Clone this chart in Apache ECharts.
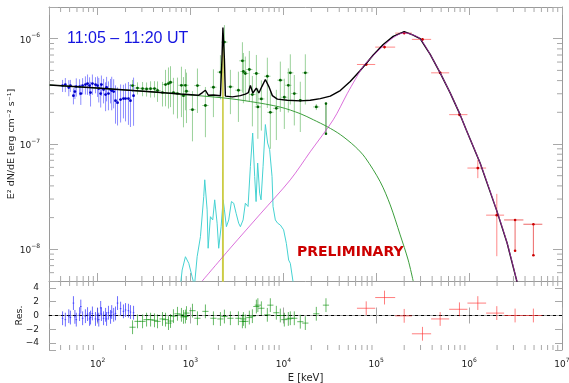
<!DOCTYPE html>
<html>
<head>
<meta charset="utf-8">
<script src="https://cdn.jsdelivr.net/npm/echarts@6/dist/echarts.min.js"></script>
<style>
html, body { margin: 0; padding: 0; background: #fff; }
#chart { width: 569px; height: 383px; }
</style>
</head>
<body>
<div id="chart"></div>
<script>
// flux values are in units of 1e-7 erg cm^-2 s^-1, energies in keV
var FU = 1e-7;

// low energy instrument (blue)
var blueE = [42, 45, 49, 51, 55, 57, 59, 64, 66, 69, 74, 78, 82, 84, 88, 95, 100, 103, 108, 110, 116, 122, 125, 131, 138, 142, 149, 156, 164, 177, 190, 200, 215, 226, 244];
var blueF = [3.59, 3.67, 3.44, 3.59, 2.88, 3.15, 3.51, 3.51, 3.01, 3.59, 3.67, 3.75, 3.59, 3.08, 3.75, 3.67, 3.59, 3.36, 3.01, 3.67, 3.29, 2.95, 3.44, 3.01, 3.29, 3.22, 3.15, 2.58, 2.47, 2.64, 2.70, 2.70, 2.70, 2.58, 2.88];
var blueErr = [0.47, 0.56, 0.60, 0.47, 0.50, 0.48, 0.69, 0.61, 0.66, 0.63, 0.72, 0.82, 0.71, 0.81, 0.82, 0.64, 0.79, 0.88, 0.79, 0.80, 0.86, 0.90, 0.90, 0.92, 0.86, 1.13, 0.97, 1.02, 0.97, 1.04, 0.95, 1.06, 1.18, 1.13, 1.39];
var blueRes = [-0.4, -0.6, -0.1, -0.3, 1.8, -0.2, -0.6, 0.2, 1.3, -0.4, -0.1, 0.2, -0.5, -0.3, 0.3, -0.5, 0.1, -0.6, 1.1, 0.2, -0.4, 0.1, -0.5, 0.4, -0.2, 0.5, 0.1, 0.3, 1.8, 1.0, 0.6, 0.8, 0.7, 0.5, 0.4];

// mid energy instrument (green)
var greenE = [238, 269, 305, 337, 372, 410, 442, 500, 539, 580, 610, 656, 725, 800, 841, 883, 906, 1051, 1189, 1449, 1767, 2102, 2321, 2692, 3283, 3625, 3715, 3900, 4305, 4642, 5125, 5318, 5800, 6728, 7245, 8408, 9283, 10250, 11320, 11890, 13130, 15230, 17250, 22650];
var greenF = [3.59, 3.40, 3.36, 3.33, 3.35, 3.36, 3.22, 3.08, 3.67, 3.75, 3.86, 3.08, 3.01, 3.61, 2.88, 3.61, 3.17, 2.12, 3.59, 2.32, 3.46, 4.81, 9.28, 3.49, 3.24, 6.17, 4.88, 4.67, 5.10, 2.95, 4.67, 2.25, 2.68, 4.40, 2.00, 2.18, 4.04, 2.78, 3.61, 4.74, 3.01, 2.60, 4.74, 2.25];
var greenErr = [0.47, 0.45, 0.52, 0.51, 0.59, 0.59, 0.71, 0.81, 1.39, 1.58, 1.62, 1.17, 1.26, 1.81, 1.44, 1.52, 1.59, 1.06, 1.62, 1.16, 1.66, 2.16, 4.18, 1.57, 1.62, 3.09, 2.44, 2.10, 2.55, 1.48, 2.34, 1.13, 1.34, 2.20, 1.10, 1.09, 2.02, 1.39, 1.62, 2.37, 1.51, 1.30, 2.37, 0.15];
var greenRes = [-1.7, -0.85, -0.85, -0.6, -0.6, -0.7, -0.85, -0.5, -0.6, -1.1, -0.8, -0.1, 0.25, 0.1, -0.2, -0.15, 0.35, 0.7, -0.4, 0.6, -0.4, -0.5, -0.15, -0.4, -0.4, -0.85, -0.5, -0.85, -0.3, -0.1, 1.3, 1.5, 1.05, 0.1, 1.5, 0.4, 0, -0.6, -0.5, -0.4, -0.4, -0.9, -1.1, 0.25];
var greenUlE = [28770];
var greenUlTop = [2.42];
var greenUlBottom = [1.25];
var greenUlRes = [1.5];

// high energy instrument (red)
var redE = [78000, 122800, 200000, 314700, 487700, 787000, 1241000, 1987000];
var redBinLo = [62000, 97500, 160000, 242000, 390000, 610000, 959000, 1524000];
var redBinHi = [97500, 160000, 242000, 390000, 610000, 959000, 1524000, 2380000];
var redF = [5.69, 8.32, 11.3, 9.85, 4.74, 1.90, 0.591, 0.211];
var redErr = [0.15, 0.25, 0.35, 0.30, 0.15, 0.08, 0.117, 0.125];
var redRes = [1.05, 2.6, -0.05, -2.65, -0.5, 0.9, 1.8, 0.35];
var redUlE = [3126000, 4920000];
var redUlBinLo = [2380000, 3840000];
var redUlBinHi = [3840000, 6140000];
var redUlTop = [0.190, 0.173];
var redUlBottom = [0.097, 0.0877];
var redUlRes = [0, 0];

// model curves
var totalE = [30.5, 107.7, 371.5, 780, 1219, 1346, 1449, 1561, 1767, 2102, 2182, 2236, 2280, 2321, 2377, 2829, 3448, 3900, 4205, 4418, 4698, 5125, 5452, 5870, 6405, 6982, 7616, 8620, 11040, 15240, 19500, 25000, 32020, 41000, 52480, 67300, 78000, 92900, 118900, 152400, 200000, 250000, 297200, 381000, 487700, 625000, 800000, 928000, 1313000, 2000000, 2564000, 3300000];
var totalF = [3.63, 3.38, 3.13, 2.98, 2.90, 3.08, 3.24, 2.90, 2.92, 2.87, 6.35, 12.8, 13.1, 6.35, 2.85, 2.80, 2.88, 2.98, 3.08, 3.59, 3.05, 3.40, 3.05, 3.51, 4.10, 3.51, 2.88, 2.67, 2.60, 2.57, 2.60, 2.70, 2.85, 3.22, 3.92, 4.99, 5.82, 7.01, 8.82, 10.52, 11.66, 10.82, 10.0, 7.09, 4.74, 3.06, 1.90, 1.37, 0.659, 0.228, 0.1148, 0.048];
var cutoffE = [30.5, 107.7, 371.5, 780, 2264, 4418, 9290, 15240, 21020, 29700, 41000, 59430, 76200, 110400, 141500, 181100, 220800, 250000];
var cutoffF = [3.63, 3.38, 3.13, 2.97, 2.74, 2.53, 2.24, 1.94, 1.70, 1.46, 1.23, 0.943, 0.741, 0.438, 0.264, 0.137, 0.0791, 0.0499];
var bandE = [1336, 2692, 5658, 11890, 19500, 34480, 48750, 59430, 72440, 92900, 118900, 152400, 200000, 250000, 297200, 381000, 487700, 625000, 800000, 928000, 1313000, 2000000, 2564000, 3300000];
var bandF = [0.0499, 0.1029, 0.217, 0.457, 0.845, 1.70, 3.01, 4.10, 5.45, 6.93, 8.50, 10.22, 11.4, 10.82, 10.0, 7.09, 4.74, 3.06, 1.90, 1.37, 0.659, 0.228, 0.1148, 0.048];
var linesE = [780, 814, 883, 959, 1043, 1104, 1180, 1281, 1390, 1425, 1512, 1550, 1641, 1737, 1824, 1936, 2014, 2138, 2247, 2321, 2438, 2582, 2761, 2922, 3100, 3304, 3448, 3687, 3900, 4170, 4418, 4677, 4914, 5088, 5292, 5559, 5754, 6050, 6405, 6777, 7123, 7558, 7745, 8204, 8685, 9284, 10070, 10770, 11400, 11890, 12910];
var linesF = [0.045, 0.0635, 0.0850, 0.0736, 0.0548, 0.045, 0.0850, 0.1318, 0.317, 0.457, 0.237, 0.1023, 0.204, 0.190, 0.295, 0.177, 0.1023, 0.164, 0.295, 0.237, 0.164, 0.190, 0.284, 0.274, 0.220, 0.177, 0.164, 0.190, 0.274, 0.255, 0.612, 1.27, 0.491, 0.284, 0.659, 0.341, 0.295, 0.612, 1.53, 1.022, 0.883, 0.491, 0.255, 0.190, 0.177, 0.170, 0.153, 0.114, 0.0791, 0.0736, 0.045];
var gaussE = [2222, 2236, 2250];
var gaussF = [0.045, 10.0, 0.045];

var X_MIN = 30, X_MAX = 1e7, Y_MIN = 5e-9, Y_MAX = 2e-6, R_MIN = -5, R_MAX = 5;
var FONT = '"DejaVu Sans", sans-serif';
var frameColor = '#9a9a9a', tickColor = '#a8a8a8', textColor = '#222';

function pairs(xs, ys) {
	return xs.map(function (x, i) { return [x, ys[i] * FU]; });
}

function powLabel(v) {
	var e = Math.log(v) / Math.LN10;
	var r = Math.round(e);
	if (Math.abs(e - r) > 1e-6) return '';
	return '{b|10}{s|' + String(r).replace('-', '\u2212') + '}';
}
var powRich = {
	b: { fontSize: 9, fontFamily: FONT, color: textColor, lineHeight: 12, verticalAlign: 'bottom' },
	s: { fontSize: 6, fontFamily: FONT, color: textColor, lineHeight: 12, verticalAlign: 'top' }
};

// error bar items: [x, y, ylo, yhi, xlo, xhi]
function errData(xs, ys, errs, kx, scale) {
	return xs.map(function (x, i) {
		var y = ys[i] * scale, e = errs[i] * scale;
		return [x, y, y - e, y + e, x / kx, x * kx];
	});
}
function binData(xs, ys, errs, lo, hi, scale) {
	return xs.map(function (x, i) {
		var y = ys[i] * scale, e = errs[i] * scale;
		return [x, y, y - e, y + e, lo[i], hi[i]];
	});
}
function errRender(color, dot) {
	return function (params, api) {
		var x = api.value(0), y = api.value(1);
		var c = api.coord([x, y]);
		var a = api.coord([x, api.value(2)]);
		var b = api.coord([x, api.value(3)]);
		var l = api.coord([api.value(4), y]);
		var r = api.coord([api.value(5), y]);
		var ch = [
			{ type: 'line', shape: { x1: c[0], y1: a[1], x2: c[0], y2: b[1] }, style: { stroke: color, lineWidth: 1 } },
			{ type: 'line', shape: { x1: l[0], y1: c[1], x2: r[0], y2: c[1] }, style: { stroke: color, lineWidth: 1 } }
		];
		if (dot) ch.push({ type: 'circle', shape: { cx: c[0], cy: c[1], r: 1.4 }, style: { fill: dot } });
		return { type: 'group', children: ch };
	};
}
// limit-like bars: [x, top, bottom, xlo, xhi]
function limitRender(color, dot) {
	return function (params, api) {
		var x = api.value(0);
		var t = api.coord([x, api.value(1)]);
		var b = api.coord([x, api.value(2)]);
		var l = api.coord([api.value(3), api.value(1)]);
		var r = api.coord([api.value(4), api.value(1)]);
		return { type: 'group', children: [
			{ type: 'line', shape: { x1: t[0], y1: t[1], x2: b[0], y2: b[1] }, style: { stroke: color, lineWidth: 1 } },
			{ type: 'line', shape: { x1: l[0], y1: t[1], x2: r[0], y2: t[1] }, style: { stroke: color, lineWidth: 1 } },
			{ type: 'circle', shape: { cx: t[0], cy: t[1], r: 1.3 }, style: { fill: dot } },
			{ type: 'circle', shape: { cx: b[0], cy: b[1], r: 1.3 }, style: { fill: dot } }
		] };
	};
}

// minor tick marks (2..9 x 10^k), drawn against the axis scales
var xMinor = [], yMinor = [];
for (var k = 1; k <= 6; k++) for (var m = 2; m <= 9; m++) {
	var v = m * Math.pow(10, k);
	if (v > X_MIN * 1.001 && v < X_MAX) xMinor.push(v);
}
for (var k2 = -9; k2 <= -6; k2++) for (var m2 = 2; m2 <= 9; m2++) {
	var w = m2 * Math.pow(10, k2);
	if (w > Y_MIN * 1.001 && w < Y_MAX * 0.999) yMinor.push(w);
}
function tickData(yLo, yHi, withY) {
	var d = [];
	xMinor.forEach(function (v) { d.push([v, yLo, 0]); d.push([v, yHi, 1]); });
	if (withY) yMinor.forEach(function (v) { d.push([X_MIN, v, 2]); d.push([X_MAX, v, 3]); });
	return d;
}
function tickRender(params, api) {
	var p = api.coord([api.value(0), api.value(1)]);
	var kind = api.value(2), L = 5;
	var dx = kind === 2 ? L : kind === 3 ? -L : 0;
	var dy = kind === 0 ? -L : kind === 1 ? L : 0;
	return { type: 'line', shape: { x1: p[0], y1: p[1], x2: p[0] + dx, y2: p[1] + dy }, style: { stroke: tickColor, lineWidth: 1 } };
}

function logX(grid, pos, labels) {
	return {
		type: 'log', gridIndex: grid, position: pos, min: X_MIN, max: X_MAX,
		axisLine: { show: true, lineStyle: { color: frameColor, width: 1 } },
		axisTick: { show: true, inside: true, length: 8, lineStyle: { color: tickColor } },
		axisLabel: labels ? { show: true, formatter: powLabel, rich: powRich, margin: 7, hideOverlap: false } : { show: false },
		splitLine: { show: false }
	};
}

var myChart = echarts.init(document.getElementById('chart'));
var mainX = logX(0, 'bottom', false);
var mainXTop = logX(0, 'top', false);
var resX = logX(1, 'bottom', true);
resX.name = 'E [keV]';
resX.nameLocation = 'middle';
resX.nameGap = 23;
resX.nameMoveOverlap = false;
resX.nameTextStyle = { fontSize: 10, fontFamily: FONT, color: textColor };
var resXTop = logX(1, 'top', false);

var option = {
	animation: false,
	backgroundColor: '#fff',
	grid: [
		{ left: 49, right: 7, top: 7, height: 274, containLabel: false, outerBoundsMode: 'none' },
		{ left: 49, right: 7, top: 281, height: 69, containLabel: false, outerBoundsMode: 'none' }
	],
	xAxis: [mainX, mainXTop, resX, resXTop],
	yAxis: [
		{
			type: 'log', gridIndex: 0, position: 'left', min: Y_MIN, max: Y_MAX,
			axisLine: { show: true, lineStyle: { color: frameColor } },
			axisTick: { show: true, inside: true, length: 9, lineStyle: { color: tickColor } },
			axisLabel: { formatter: powLabel, rich: powRich, margin: 9 },
			splitLine: { show: false },
			name: 'E² dN/dE [erg cm⁻² s⁻¹]', nameLocation: 'middle', nameGap: 32, nameMoveOverlap: false,
			nameTextStyle: { fontSize: 9.5, fontFamily: FONT, color: textColor }
		},
		{
			type: 'log', gridIndex: 0, position: 'right', min: Y_MIN, max: Y_MAX,
			axisLine: { show: true, lineStyle: { color: frameColor } },
			axisTick: { show: true, inside: true, length: 9, lineStyle: { color: tickColor } },
			axisLabel: { show: false }, splitLine: { show: false }
		},
		{
			type: 'value', gridIndex: 1, position: 'left', min: R_MIN, max: R_MAX, splitNumber: 5,
			axisLine: { show: true, lineStyle: { color: frameColor } },
			axisTick: { show: true, inside: true, length: 7, lineStyle: { color: tickColor } },
			axisLabel: {
				margin: 10, fontSize: 9, fontFamily: FONT, color: textColor,
				formatter: function (v) { return Math.abs(v % 2) === 1 ? '' : String(v).replace('-', '\u2212'); }
			},
			splitLine: { show: false },
			name: 'Res.', nameLocation: 'middle', nameGap: 24, nameMoveOverlap: false,
			nameTextStyle: { fontSize: 9.5, fontFamily: FONT, color: textColor }
		},
		{
			type: 'value', gridIndex: 1, position: 'right', min: R_MIN, max: R_MAX, splitNumber: 5,
			axisLine: { show: true, lineStyle: { color: frameColor } },
			axisTick: { show: true, inside: true, length: 7, lineStyle: { color: tickColor } },
			axisLabel: { show: false }, splitLine: { show: false }
		}
	],
	graphic: [
		{ type: 'text', left: 67, top: 31, style: { text: '11:05 – 11:20 UT', fill: '#1414e0', font: '16px "Liberation Sans", Arial, sans-serif' } },
		{ type: 'text', left: 297, top: 245, style: { text: 'PRELIMINARY', fill: '#cc0000', font: 'bold 14px "DejaVu Sans", sans-serif' } }
	],
	series: [
		{ type: 'custom', xAxisIndex: 0, yAxisIndex: 0, clip: false, silent: true, renderItem: tickRender, data: tickData(Y_MIN, Y_MAX, true), z: 1 },
		{ type: 'custom', xAxisIndex: 2, yAxisIndex: 2, clip: false, silent: true, renderItem: tickRender, data: tickData(R_MIN, R_MAX, false), z: 1 },

		{ type: 'custom', xAxisIndex: 0, yAxisIndex: 0, renderItem: errRender('rgba(30,30,255,0.5)', '#0000c8'), data: errData(blueE, blueF, blueErr, 1.02, FU), z: 2 },
		{ type: 'custom', xAxisIndex: 0, yAxisIndex: 0, renderItem: errRender('rgba(0,140,0,0.4)', '#006000'), data: errData(greenE, greenF, greenErr, 1.08, FU), z: 2 },
		{ type: 'custom', xAxisIndex: 0, yAxisIndex: 0, renderItem: limitRender('rgba(0,110,0,0.8)', '#006000'),
			data: greenUlE.map(function (x, i) { return [x, greenUlTop[i] * FU, greenUlBottom[i] * FU, x, x]; }), z: 2 },
		{ type: 'custom', xAxisIndex: 0, yAxisIndex: 0, renderItem: errRender('rgba(255,40,40,0.55)', '#cc0000'), data: binData(redE, redF, redErr, redBinLo, redBinHi, FU), z: 2 },
		{ type: 'custom', xAxisIndex: 0, yAxisIndex: 0, renderItem: limitRender('rgba(230,40,40,0.7)', '#cc0000'),
			data: redUlE.map(function (x, i) { return [x, redUlTop[i] * FU, redUlBottom[i] * FU, redUlBinLo[i], redUlBinHi[i]]; }), z: 2 },

		{ type: 'line', xAxisIndex: 0, yAxisIndex: 0, data: pairs(linesE, linesF), symbol: 'none', lineStyle: { color: '#45d2d2', width: 1 }, z: 3 },
		{ type: 'line', xAxisIndex: 0, yAxisIndex: 0, data: pairs(gaussE, gaussF), symbol: 'none', lineStyle: { color: '#cccc44', width: 1.5 }, z: 3 },
		{ type: 'line', xAxisIndex: 0, yAxisIndex: 0, data: pairs(cutoffE, cutoffF), symbol: 'none', smooth: 0.3, lineStyle: { color: '#3c9e3c', width: 1 }, z: 3 },
		{ type: 'line', xAxisIndex: 0, yAxisIndex: 0, data: pairs(totalE, totalF), symbol: 'none', lineStyle: { color: '#000', width: 1.4 }, z: 4 },
		{ type: 'line', xAxisIndex: 0, yAxisIndex: 0, data: pairs(bandE, bandF), symbol: 'none', smooth: 0.3, lineStyle: { color: '#cc33cc', width: 1, opacity: 0.7 }, z: 5 },

		{ type: 'line', xAxisIndex: 2, yAxisIndex: 2, data: [[X_MIN, 0], [X_MAX, 0]], symbol: 'none', lineStyle: { color: '#000', width: 1, type: [3, 3] }, z: 2 },
		{ type: 'custom', xAxisIndex: 2, yAxisIndex: 2, renderItem: errRender('rgba(30,30,255,0.65)', null), data: errData(blueE, blueRes, blueE.map(function () { return 1; }), 1.02, 1), z: 3 },
		{ type: 'custom', xAxisIndex: 2, yAxisIndex: 2, renderItem: errRender('rgba(0,140,0,0.6)', null), data: errData(greenE.concat(greenUlE), greenRes.concat(greenUlRes), greenE.concat(greenUlE).map(function () { return 1; }), 1.08, 1), z: 3 },
		{ type: 'custom', xAxisIndex: 2, yAxisIndex: 2, renderItem: errRender('rgba(255,40,40,0.6)', null),
			data: binData(redE.concat(redUlE), redRes.concat(redUlRes), redE.concat(redUlE).map(function () { return 1; }), redBinLo.concat(redUlBinLo), redBinHi.concat(redUlBinHi), 1), z: 3 }
	]
};
myChart.setOption(option);
</script>
</body>
</html>
